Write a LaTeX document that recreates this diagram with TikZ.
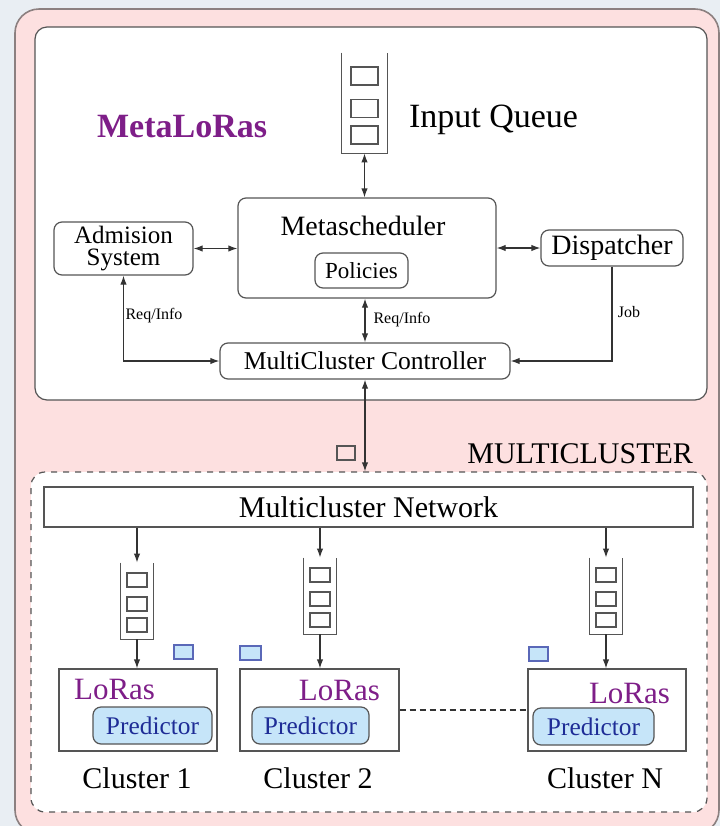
\documentclass[tikz,border=0pt]{standalone}
\usepackage{fontspec}
\setmainfont{Liberation Serif}
\usetikzlibrary{arrows.meta,positioning,calc}
\definecolor{pagebg}{HTML}{E9EEF3}
\definecolor{pinkbg}{HTML}{FDE0E0}
\definecolor{rimgray}{HTML}{8C8080}
\definecolor{edgegray}{HTML}{555555}
\definecolor{lorasviolet}{HTML}{7E1E88}
\definecolor{predfill}{HTML}{C6E5F9}
\definecolor{predtext}{HTML}{1E2C96}
\definecolor{jobblue}{HTML}{5A68B8}

\tikzset{
  box/.style={draw=edgegray, fill=white, line width=0.6pt, rounded corners=4pt, inner sep=0pt},
  plainbox/.style={draw=edgegray, fill=white, line width=0.6pt, inner sep=0pt},
  predbox/.style={draw=edgegray, fill=predfill, line width=0.6pt, rounded corners=4pt, inner sep=0pt,
    text=predtext, font=\fontsize{12.7}{14}\selectfont},
  queue/.style={inner sep=0pt, minimum width=16pt, minimum height=38pt},
  qline/.style={draw=edgegray, line width=0.6pt},
  slot/.style={draw=edgegray, line width=0.6pt, inner sep=0pt, minimum width=10pt, minimum height=7pt},
  jobslot/.style={draw=jobblue, fill=predfill, line width=0.6pt, inner sep=0pt, minimum width=9.5pt, minimum height=7pt},
  link/.style={draw=black!80, line width=0.6pt, -{Latex[length=4.5pt,width=3.2pt]}},
  duplex/.style={link, {Latex[length=4.5pt,width=3.2pt]}-{Latex[length=4.5pt,width=3.2pt]}},
  tag/.style={font=\fontsize{8}{9}\selectfont, inner sep=0pt},
}

\begin{document}
\begin{tikzpicture}[x=0.5pt, y=-0.5pt]
  \useasboundingbox (0,0) rectangle (720,826);
  \fill[pagebg] (0,0) rectangle (720,826);

  % --- frames ---
  \draw[fill=pinkbg, draw=rimgray, line width=0.8pt, rounded corners=12pt] (15,9) rectangle (719,834);
  \draw[fill=white, draw=edgegray, line width=0.6pt, rounded corners=6pt] (35,27) rectangle (707,400);
  \node[draw=edgegray, fill=white, dashed, line width=0.6pt, rounded corners=7pt,
        minimum width=338pt, minimum height=170pt] (mc) at (369,642) {};

  % --- MetaLoRas ---
  \node[anchor=base west, font=\bfseries\fontsize{17}{20}\selectfont, text=lorasviolet] (title) at (90,137) {MetaLoRas};

  % Input queue
  \node[queue, minimum width=22.5pt, minimum height=50pt] (q0) at (364.5,103) {};
  \draw[qline] (q0.north west) -- (q0.south west) -- (q0.south east) -- (q0.north east);
  \foreach \dy in {-27,5.5,32}
    \node[slot, minimum width=13.5pt, minimum height=9pt] at (364.5,{103+\dy}) {};
  \node[anchor=base west, font=\fontsize{17}{20}\selectfont] (qlabel) at (402,127) {Input Queue};

  \node[box, minimum width=69.5pt, minimum height=26.5pt, align=center,
        font=\fontsize{12.5}{11}\selectfont] (adm) at (123.5,248.5) {Admision\\System};
  \node[box, minimum width=129pt, minimum height=50pt] (meta) at (367,248) {};
  \node[anchor=base, font=\fontsize{14}{16}\selectfont] (metatext) at (363,235) {Metascheduler};
  \node[box, minimum width=46.5pt, minimum height=17.5pt, font=\fontsize{11.5}{13}\selectfont] (pol) at (361.5,270.5) {Policies};
  \node[box, minimum width=71pt, minimum height=18pt, font=\fontsize{14}{16}\selectfont] (disp) at (612,248) {Dispatcher};
  \node[box, minimum width=145pt, minimum height=18pt, font=\fontsize{12.8}{15}\selectfont] (ctrl) at (365,361) {MultiCluster Controller};

  \draw[duplex] (q0.south) -- (q0.south |- meta.north);
  \draw[duplex] (adm.east) -- (adm.east -| meta.west);
  \draw[duplex] (meta.east) -- (meta.east -| disp.west);
  \draw[duplex] (ctrl.north) -- (ctrl.north |- meta.south);
  \draw[duplex] (adm.south) |- (ctrl.west);
  \draw[link] (disp.south) |- (ctrl.east);

  \node[tag] (reqa) at (154,316) {Req/Info};
  \node[tag] (reqb) at (402,320) {Req/Info};
  \node[tag] (job) at (629,312) {Job};

  % --- MULTICLUSTER ---
  \draw[duplex] (ctrl.south) -- (ctrl.south |- mc.north);
  \node[draw=edgegray, line width=0.6pt, inner sep=0pt, minimum width=9pt, minimum height=7pt] (jobbox) at (346,453) {};
  \node[anchor=base east, font=\fontsize{15}{18}\selectfont] (mclabel) at (700,463) {MULTICLUSTER};

  \node[plainbox, minimum width=324.5pt, minimum height=20pt, font=\fontsize{15}{18}\selectfont] (net) at (368.5,507) {Multicluster Network};

  % Clusters
  \node[plainbox, minimum width=79pt, minimum height=41pt] (c1) at (138,710) {};
  \node[plainbox, minimum width=79.5pt, minimum height=41pt] (c2) at (319.5,710) {};
  \node[plainbox, minimum width=79pt, minimum height=41pt] (cN) at (607,710) {};

  \node[predbox, minimum width=59.5pt, minimum height=18.5pt] (p1) at (152.5,725.5) {Predictor};
  \node[predbox, minimum width=58.5pt, minimum height=18.5pt] (p2) at (310.5,725.5) {Predictor};
  \node[predbox, minimum width=60.5pt, minimum height=18.5pt] (pN) at (593.5,726.5) {Predictor};

  \node[anchor=base west, text=lorasviolet, font=\fontsize{15.5}{18}\selectfont] (l1) at (67,699) {LoRas};
  \node[anchor=base east, text=lorasviolet, font=\fontsize{15.5}{18}\selectfont] (l2) at (387,700) {LoRas};
  \node[anchor=base east, text=lorasviolet, font=\fontsize{15.5}{18}\selectfont] (lN) at (677,703) {LoRas};

  \node[anchor=base, font=\fontsize{15}{18}\selectfont] (n1) at (137,788) {Cluster 1};
  \node[anchor=base, font=\fontsize{15}{18}\selectfont] (n2) at (318,788) {Cluster 2};
  \node[anchor=base, font=\fontsize{15}{18}\selectfont] (nN) at (605,788) {Cluster N};

  % Local queues
  \foreach \n/\c/\x/\y in {q1/c1/137/601, q2/c2/320/596, qN/cN/606/596} {
    \node[queue] (\n) at (\x,\y) {};
    \draw[qline] (\n.north west) -- (\n.south west) -- (\n.south east) -- (\n.north east);
    \foreach \dy in {-21,3,24}
      \node[slot] at (\x,{\y+\dy}) {};
    \draw[link] (\n.north |- net.south) -- (\n.north);
    \draw[link] (\n.south) -- (\n.south |- \c.north);
  }

  \node[jobslot] (j1) at (183.5,652) {};
  \node[jobslot, minimum width=10.5pt] (j2) at (250.5,653) {};
  \node[jobslot] (jN) at (538.5,654) {};

  \draw[edgegray!60!black, line width=1.3pt, dash pattern=on 3pt off 2pt] (c2.east) -- (cN.west);
\end{tikzpicture}
\end{document}
